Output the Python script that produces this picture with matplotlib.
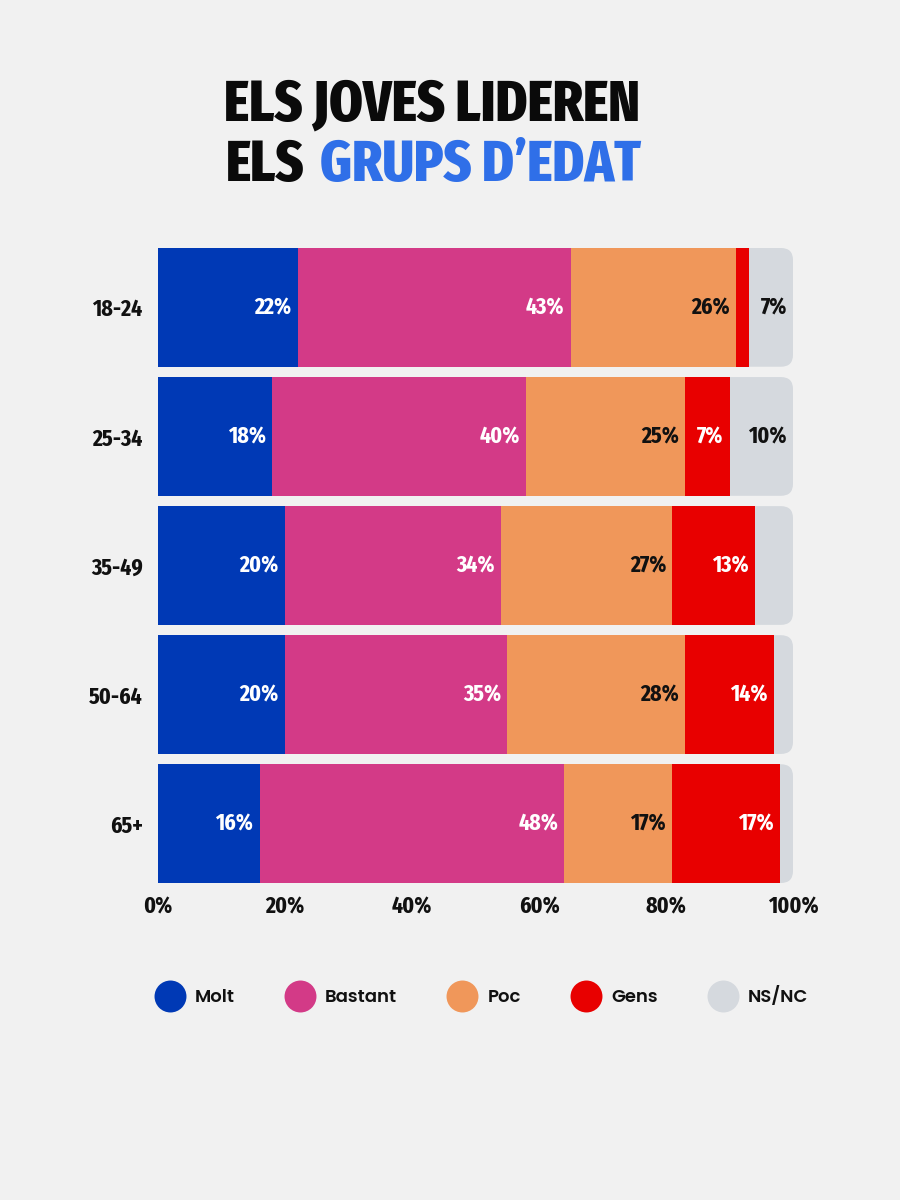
import numpy as np
import matplotlib.pyplot as plt
from matplotlib.patches import FancyBboxPatch
from matplotlib.lines import Line2D

# Data
groups = ["18-24", "25-34", "35-49", "50-64", "65+"]
answers = ["Molt", "Bastant", "Poc", "Gens", "NS/NC"]
molt = [22, 18, 20, 20, 16]
bastant = [43, 40, 34, 35, 48]
poc = [26, 25, 27, 28, 17]
gens = [2, 7, 13, 14, 17]
nsnc = [7, 10, 6, 3, 2]
# which values carry a printed label
show_gens = [False, True, True, True, True]
show_nsnc = [True, True, False, False, False]
ticks = [0, 20, 40, 60, 80, 100]

colors = ["#0039b5", "#d33a87", "#f0975a", "#e80000", "#d5d9de"]
text_colors = ["white", "white", "#111111", "white", "#111111"]
bg = "#f1f1f1"
blue_title = "#2f6fe8"

cond = ['Fira Sans Extra Condensed', 'DejaVu Sans']
plt.rcParams['font.family'] = cond
plt.rcParams['font.weight'] = 'bold'

fig = plt.figure(figsize=(9, 12), dpi=100, facecolor=bg)
ax = fig.add_axes([158 / 900, 1 - 883 / 1200, 635 / 900, 635 / 1200])
ax.set_facecolor("none")

series = [molt, bastant, poc, gens, nsnc]
shown = [[True] * 5, [True] * 5, [True] * 5, show_gens, show_nsnc]
y = np.arange(len(groups))
h = 0.92

# grey full-width rounded bars behind
for yi in y:
    box = FancyBboxPatch((0, yi - h / 2), 100, h,
                         boxstyle="round,pad=0,rounding_size=1.9",
                         mutation_aspect=0.049, fc=colors[4], ec="none", zorder=1)
    ax.add_patch(box)

left = np.zeros(len(groups))
for k, vals in enumerate(series):
    vals = np.array(vals, dtype=float)
    if k < 4:
        ax.barh(y, vals, left=left, height=h, color=colors[k], zorder=2)
    for i, v in enumerate(vals):
        if shown[k][i]:
            ax.annotate(f"{int(v)}%", (left[i] + v, y[i]), xytext=(-4.5, 0),
                        textcoords="offset points", ha="right", va="center",
                        fontsize=17, fontweight="bold", color=text_colors[k], zorder=3)
    left += vals

ax.set_xlim(0, 100)
ax.set_ylim(len(groups) - 1 + h / 2, -h / 2)
ax.set_yticks(y)
ax.set_yticklabels(groups)
ax.set_xticks(ticks)
ax.set_xticklabels([f"{t}%" for t in ticks])
ax.tick_params(length=0, labelsize=17, colors="#111111")
ax.tick_params(axis="y", pad=11)
ax.tick_params(axis="x", pad=9)
for s in ax.spines.values():
    s.set_visible(False)

# title
tkw = dict(fontsize=42, fontweight=800, va="center")
fig.text(432 / 900, 1 - 105 / 1200, "ELS JOVES LIDEREN", ha="center", color="#0a0a0a", **tkw)
fig.text(304 / 900, 1 - 165 / 1200, "ELS", ha="right", color="#0a0a0a", **tkw)
fig.text(320 / 900, 1 - 165 / 1200, "GRUPS D\u2019EDAT", ha="left", color=blue_title, **tkw)

# legend
handles = [Line2D([], [], marker="o", ls="none", markersize=23, markerfacecolor=c,
                  markeredgecolor="none") for c in colors]
fig.legend(handles, answers, loc="center", bbox_to_anchor=(481 / 900, 1 - 997 / 1200),
           ncol=5, frameon=False, handletextpad=0.5, columnspacing=2.7,
           handlelength=1.8, labelcolor="#111111",
           prop=dict(family=['Poppins', 'Fira Sans', 'DejaVu Sans'], weight=600, size=13))

fig.savefig("out.png", dpi=100, facecolor=bg)
